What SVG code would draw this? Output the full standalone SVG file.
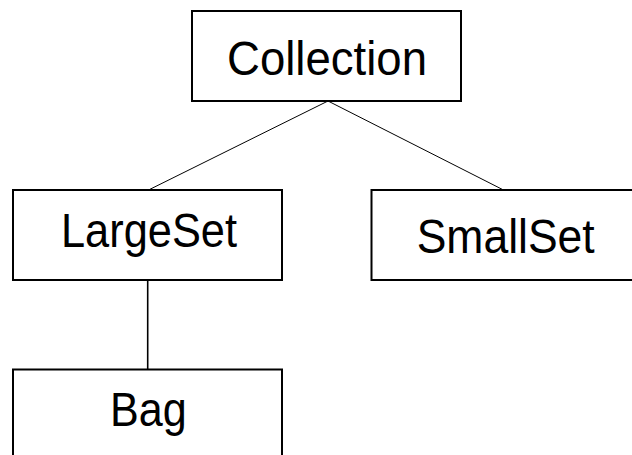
<svg xmlns="http://www.w3.org/2000/svg" width="632" height="455" viewBox="0 0 632 455">
<style>
.box{fill:#fff;stroke:#000;stroke-width:2}
.lbl{font-family:"Liberation Sans",Arial,sans-serif;font-size:49px;fill:#000;text-anchor:start}
.edge{stroke:#000;fill:none}
</style>
<rect width="632" height="455" fill="#fff"/>
<g id="connectors">
<line class="edge" x1="328" y1="101" x2="148.5" y2="190" stroke-width="1"/>
<line class="edge" x1="328" y1="101" x2="503.5" y2="190" stroke-width="1"/>
<line class="edge" x1="147.7" y1="280" x2="147.7" y2="369.5" stroke-width="1.6"/>
</g>
<g id="collection">
<rect class="box" x="192" y="11" width="269" height="90"/>
<text class="lbl" x="227" y="75" textLength="200" lengthAdjust="spacingAndGlyphs">Collection</text>
</g>
<g id="largeset">
<rect class="box" x="13" y="190" width="269" height="90"/>
<text class="lbl" x="61" y="246.7" textLength="176" lengthAdjust="spacingAndGlyphs">LargeSet</text>
</g>
<g id="smallset">
<rect class="box" x="371.5" y="190" width="290" height="90"/>
<text class="lbl" x="416.7" y="252.7" textLength="178" lengthAdjust="spacingAndGlyphs">SmallSet</text>
</g>
<g id="bag">
<rect class="box" x="13" y="369.5" width="269" height="100"/>
<text class="lbl" x="110" y="425.7" textLength="76.7" lengthAdjust="spacingAndGlyphs">Bag</text>
</g>
</svg>
